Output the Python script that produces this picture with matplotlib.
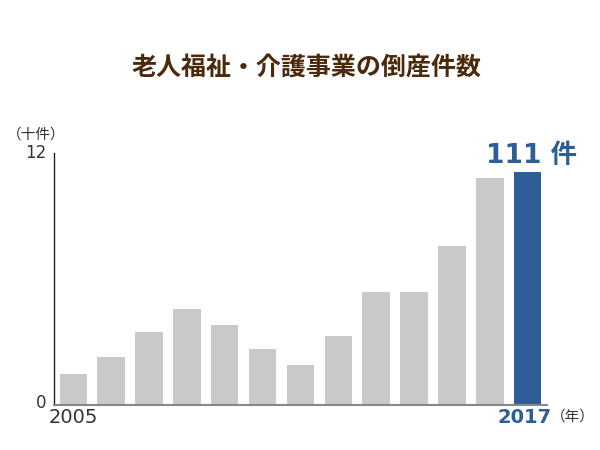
import numpy as np
import matplotlib
matplotlib.use("Agg")
import matplotlib.pyplot as plt

plt.rcParams['font.family'] = ['DejaVu Sans', 'Noto Sans CJK JP']

# データ（単位：十件）
years = [2005, 2006, 2007, 2008, 2009, 2010, 2011, 2012, 2013, 2014, 2015, 2016, 2017]
counts = [1.5, 2.3, 3.5, 4.6, 3.8, 2.7, 1.9, 3.3, 5.4, 5.4, 7.6, 10.8, 11.1]
title = "老人福祉・介護事業の倒産件数"
last_label = "111 件"

gray = "#c9c9c9"
blue = "#2d5f96"
brown = "#4a2a0a"
jp = ['Noto Sans CJK JP', 'DejaVu Sans']

fig = plt.figure(figsize=(6, 4.5), dpi=100)
ax = fig.add_axes([0.0905, 0.0993, 0.8205, 0.5607])

x = np.arange(len(years))
colors = [gray] * (len(years) - 1) + [blue]
ax.bar(x, counts, width=0.725, color=colors, zorder=2)

ax.set_xlim(-0.5, len(years) - 0.5)
ax.set_ylim(0, 12)
ax.set_xticks([])
ax.set_yticks([])
for s in ['top', 'right']:
    ax.spines[s].set_visible(False)
ax.spines['left'].set_color('#222222')
ax.spines['left'].set_linewidth(1.0)
ax.spines['bottom'].set_color('#888888')
ax.spines['bottom'].set_linewidth(1.5)

# 軸ラベル
ax.text(-0.72, 12, "12", ha='right', va='center', fontsize=12, color='#333333')
ax.text(-0.72, 0.1, "0", ha='right', va='center', fontsize=12, color='#333333')
ax.text(-0.98, 12.55, "（十件）", ha='center', va='bottom', fontsize=10.5,
        color='#333333', family=jp)
ax.text(x[0] - 0.65, -0.15, str(years[0]), ha='left', va='top', fontsize=14,
        color='#333333')
ax.text(x[-1] + 0.62, -0.15, str(years[-1]), ha='right', va='top', fontsize=14,
        color=blue, fontweight='bold')
ax.text(x[-1] + 0.62, -0.22, "（年）", ha='left', va='top', fontsize=10.5,
        color='#333333', family=jp)

# 最終年の件数
ax.text(x[-1] + 1.3, counts[-1] + 0.15, last_label, ha='right', va='bottom',
        fontsize=19, color=blue, fontweight='bold')

fig.text(0.51, 0.85, title, ha='center', va='center', fontsize=18,
         color=brown, fontweight='bold', family=jp)

fig.savefig("out.png", dpi=100)
